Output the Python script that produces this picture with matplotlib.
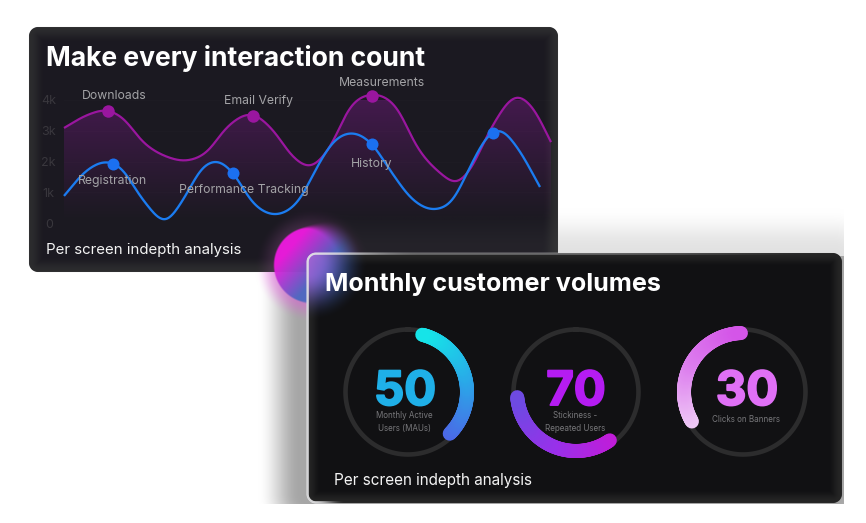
import numpy as np
import matplotlib
matplotlib.use("Agg")
import matplotlib.pyplot as plt
import matplotlib.patheffects as pe
from matplotlib.collections import LineCollection
from matplotlib.colors import LinearSegmentedColormap
from matplotlib.patches import Polygon

# ---------- data ----------
title_top = "Make every interaction count"
title_bottom = "Monthly customer volumes"
caption = "Per screen indepth analysis"
y_ticks = [0, 1, 2, 3, 4]
y_tick_labels = ["0", "1k", "2k", "3k", "4k"]

purple_x = [64, 87, 108, 123, 143, 167, 187, 207, 227, 253, 273, 293, 310, 330, 350, 372, 397, 417, 440, 457, 470, 490, 518, 533, 551]
purple_y = [3.09, 3.51, 3.66, 3.41, 2.63, 2.15, 2.03, 2.31, 3.12, 3.53, 3.02, 2.15, 1.84, 2.47, 3.77, 4.18, 3.74, 2.47, 1.63, 1.32, 1.72, 3.02, 4.12, 3.74, 2.63]
blue_x = [64, 87, 107, 120, 143, 167, 183, 203, 220, 233, 253, 278, 300, 317, 333, 352, 372, 390, 413, 435, 453, 470, 487, 500, 517, 540]
blue_y = [0.88, 1.72, 1.99, 1.82, 0.75, 0.08, 0.75, 1.82, 1.99, 1.63, 0.65, 0.28, 0.78, 1.82, 2.63, 2.93, 2.57, 1.72, 0.75, 0.44, 0.75, 1.82, 2.80, 3.03, 2.47, 1.17]

purple_points = {"Downloads": (108, 3.64, 6, 15), "Email Verify": (253, 3.48, 5, 15), "Measurements": (372, 4.13, 10, 13)}
blue_points = {"Registration": (113, 1.93, -1, -17), "Performance Tracking": (233, 1.63, 11, -17), "History": (372, 2.57, 0, -20), "": (493, 2.93, 0, 0)}

donut_values = ["50", "70", "30"]
donut_labels = ["Monthly Active\nUsers (MAUs)", "Stickiness -\nRepeated Users", "Clicks on Banners"]
donut_arc_start = [14, 265, -2]      # degrees clockwise from the top
donut_arc_sweep = [121, -120, -118]
donut_colours = [["#16e4e8", "#2aa8e8", "#4c68e6"], ["#6e4ae2", "#9a30ea", "#c21cd8"], ["#d455e8", "#dd80ee", "#efcaf6"]]
number_colours = ["#1fb0e8", "#b51cf2", "#e070f6"]

W, H = 866, 523
FONT = "Inter"
plt.rcParams["font.family"] = [FONT, "DejaVu Sans"]


def smooth(x, y, sigma=5.0):
    """Draw the read values as a soft curve: Hermite through them, then a light blur."""
    x, y = np.asarray(x, float), np.asarray(y, float)
    m = np.gradient(y, x)
    xd = np.arange(x[0], x[-1] + .5, 1.0)
    i = np.clip(np.searchsorted(x, xd, side="right") - 1, 0, len(x) - 2)
    h = x[i + 1] - x[i]
    t = (xd - x[i]) / h
    yd = (2*t**3-3*t**2+1)*y[i] + (t**3-2*t**2+t)*h*m[i] + (-2*t**3+3*t**2)*y[i+1] + (t**3-t**2)*h*m[i+1]
    n = int(3 * sigma)
    k = np.exp(-.5 * (np.arange(-n, n + 1) / sigma) ** 2)
    k /= k.sum()
    pad = np.r_[2 * yd[0] - yd[n:0:-1], yd, 2 * yd[-1] - yd[-2:-n - 2:-1]]
    return xd, np.convolve(pad, k, mode="valid")


def hex_rgb(h):
    return np.array(matplotlib.colors.to_rgb(h))


def sdf(X, Y, x0, y0, x1, y1, r):
    qx = np.abs(X - (x0 + x1) / 2) - (x1 - x0) / 2 + r
    qy = np.abs(Y - (y0 + y1) / 2) - (y1 - y0) / 2 + r
    return np.hypot(np.maximum(qx, 0), np.maximum(qy, 0)) + np.minimum(np.maximum(qx, qy), 0) - r


def sstep(a, b, v):
    t = np.clip((v - a) / (b - a), 0, 1)
    return t * t * (3 - 2 * t)


def over(img, colour, alpha):
    colour = np.asarray(colour)
    if colour.ndim == 1:
        colour = colour[None, None, :]
    return img * (1 - alpha[..., None]) + colour * alpha[..., None]


# ---------- background panels ----------
X, Y = np.meshgrid(np.arange(W) + .5, np.arange(H) + .5)
img = np.ones((H, W, 3))

# top card
d1 = sdf(X, Y, 29, 27, 558, 272, 9)
inner1 = sstep(-16, -1, d1)
col1 = hex_rgb("#1b1921") * (1 - inner1[..., None]) + hex_rgb("#2c2c2e") * inner1[..., None]
img = over(img, col1, sstep(.6, -.6, d1))

# shadow of bottom card
ds = sdf(X, Y, 307, 253, 842, 503, 9)
sh = 0.52 * sstep(42, 0, sdf(X, Y, 300, 250, 842, 503, 9))
sh *= (Y < 504) * (X < 844)
sh *= np.where(Y < 256, 1 - .68 * sstep(300, 360, X), 1)
img = over(img, hex_rgb("#555555"), sh)

# glowing orb
cx, cy, R = 312, 265, 38
rr = np.hypot(X - cx, Y - cy)
t = np.clip(((X - cx) * .75 + (Y - cy) * .65) / (1.0 * R) + .72, 0, 1)
orb_col = hex_rgb("#ee1adf")[None, None] * (1 - t[..., None]) + hex_rgb("#4a68c0")[None, None] * t[..., None]
glow = 0.45 * sstep(58, 36, rr)
img = over(img, hex_rgb("#e83ae0") * .9 + .1, glow * np.where(d1 < 0, 0.25, 1))
edge_soft = 1.2 + 12 * sstep(300, 345, X)
img = over(img, orb_col, sstep(R + edge_soft, R - edge_soft, rr) * .95)

# bottom card
d2 = ds
inner2 = sstep(-14, -1, d2)
col2 = hex_rgb("#111113") * (1 - inner2[..., None]) + hex_rgb("#252525") * inner2[..., None]
img = over(img, col2, sstep(.6, -.6, d2))
# orb seen through the bottom card
blur = sstep(56, 8, rr) * sstep(.6, -.6, d2) * .9
t2 = np.clip(((X - 307) * .8 + (Y - 253) * .35) / 38, 0, 1)
c2 = hex_rgb("#b868e8")[None, None] * (1 - t2[..., None]) + hex_rgb("#4a70d4")[None, None] * t2[..., None]
img = over(img, c2, blur)
# pale rim of bottom card
rim = sstep(1.7, .6, np.abs(d2 + .6)) * (1 - .6 * sstep(310, 420, X))
rim *= np.where(Y > 480, sstep(345, 315, X), 1)
img = over(img, hex_rgb("#e6e6e8"), rim * sstep(840, 560, X) * .9)

fig = plt.figure(figsize=(W / 100, H / 100), dpi=100)
bg = fig.add_axes([0, 0, 1, 1])
bg.imshow(img, extent=(0, W, H, 0), interpolation="nearest", aspect="auto", zorder=0)
bg.set_xlim(0, W)
bg.set_ylim(H, 0)
bg.axis("off")
PX = 0.72

# ---------- top chart ----------
x0, x1, ybase, ytop = 64, 552, 223, 100
ax = fig.add_axes([x0 / W, 1 - ybase / H, (x1 - x0) / W, (ybase - ytop) / H], zorder=2)
ax.patch.set_alpha(0)
ax.set_xlim(x0, x1)
ax.set_ylim(0, 4)
for s in ax.spines.values():
    s.set_visible(False)
ax.set_xticks([])
ax.set_yticks(y_ticks)
ax.set_yticklabels(y_tick_labels, ha="center", fontsize=9, color="#39373d")
ax.tick_params(axis="y", length=0, pad=11)
ax.grid(axis="y", color="white", alpha=.012, lw=.7)

px, py = smooth(purple_x, purple_y)
bx, by = smooth(blue_x, blue_y)
grad = np.zeros((120, 2, 4))
grad[..., :3] = hex_rgb("#8a1a9a")
grad[..., 3] = np.linspace(.42, 0, 120)[:, None] ** 1.1
im = ax.imshow(grad, extent=(x0, x1, 0.0, 4.2), aspect="auto", origin="upper", zorder=1, interpolation="bilinear")
im.set_clip_path(Polygon(np.r_[np.c_[px, py], [[px[-1], 0], [px[0], 0]]], transform=ax.transData))
ax.set_xlim(x0, x1)
ax.set_ylim(0, 4)
ax.plot(px, py, color="#9a169f", lw=2.2 * PX, zorder=3, clip_on=False, solid_capstyle="butt")
ax.plot(bx, by, color="#1b7cf0", lw=2.3 * PX, zorder=4, clip_on=False, solid_capstyle="butt")

for points, colour, ms in [(purple_points, "#9a169f", 12.5), (blue_points, "#1b70f0", 12)]:
    for name, (mx, my, ox, oy) in points.items():
        ax.plot([mx], [my], "o", ms=ms * PX, color=colour, mew=0, zorder=5, clip_on=False)
        if name:
            ax.annotate(name, (mx, my), xytext=(ox * PX, oy * PX), textcoords="offset points", ha="center", va="center",
                        fontsize=8.8, color="#a3a3a6", zorder=6, annotation_clip=False)

bg.text(46, 59, title_top, fontsize=19.1, fontweight="bold", color="white", va="center", ha="left", zorder=3)
bg.text(46, 250, caption, fontsize=10.8, color="#f4f4f4", va="center", ha="left", zorder=3)

# ---------- donuts ----------
bg.text(325, 284.5, title_bottom, fontsize=18.1, fontweight="bold", color="white", va="center", ha="left", zorder=3)
bg.text(334, 480.5, caption, fontsize=11, color="#f4f4f4", va="center", ha="left", zorder=3)

centres = [(408, 392, 405), (576, 392, 576), (743, 392, 747)]
for i, (cxx, cyy, tx) in enumerate(centres):
    s = 140
    a = fig.add_axes([(cxx - s / 2) / W, 1 - (cyy + s / 2) / H, s / W, s / H], zorder=3)
    a.set_xlim(-s / 2, s / 2)
    a.set_ylim(-s / 2, s / 2)
    a.axis("off")
    th = np.radians(np.linspace(0, 360, 361))
    a.plot(62.5 * np.sin(th), 62.5 * np.cos(th), color="#2c2c2d", lw=4.6 * PX)
    ang = np.radians(donut_arc_start[i] + np.linspace(0, donut_arc_sweep[i], 121))
    xa, ya = 59 * np.sin(ang), 59 * np.cos(ang)
    segs = np.stack([np.c_[xa[:-1], ya[:-1]], np.c_[xa[1:], ya[1:]]], axis=1)
    cm = LinearSegmentedColormap.from_list("c", donut_colours[i])
    a.add_collection(LineCollection(segs[::-1], colors=cm(np.linspace(0, 1, 120))[::-1], linewidths=14 * PX, capstyle="round"))
    txt = fig.text(tx / W, 1 - 405 / H, donut_values[i], fontsize=34, fontweight="bold", color=number_colours[i], ha="center", va="baseline", zorder=5)
    txt.set_path_effects([pe.withStroke(linewidth=1.4, foreground=number_colours[i])])

for i, (cxx, cyy, tx) in enumerate(centres):
    lines = donut_labels[i].split("\n")
    ys = [416, 428.5] if len(lines) == 2 else [419]
    for l, yy in zip(lines, ys):
        fig.text((tx - 0.5) / W, 1 - yy / H, l, fontsize=5.8, color="#77777a", ha="center", va="center", zorder=6)

fig.savefig("out.png", dpi=100)
